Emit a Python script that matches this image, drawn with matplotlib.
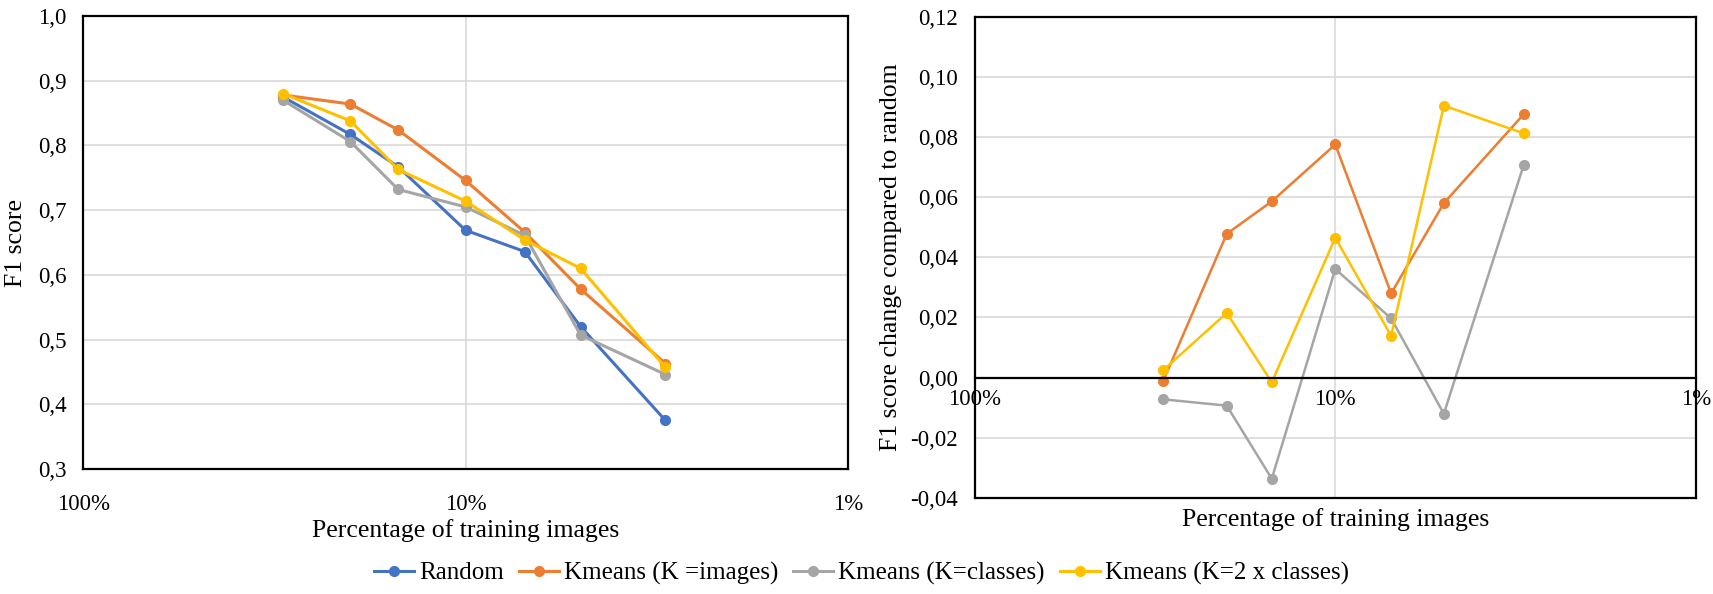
import matplotlib
matplotlib.use("Agg")
import matplotlib.pyplot as plt
from matplotlib.ticker import FixedLocator, FuncFormatter

plt.rcParams["font.family"] = ["Liberation Serif", "DejaVu Serif"]

# percentage of training images (x)
pct = [30, 20, 15, 10, 7, 5, 3]

# left panel: F1 score
f1_random = [0.875, 0.817, 0.767, 0.669, 0.636, 0.520, 0.375]
f1_km_images = [0.878, 0.864, 0.824, 0.746, 0.666, 0.578, 0.463]
f1_km_classes = [0.870, 0.806, 0.732, 0.705, 0.661, 0.507, 0.446]
f1_km_2classes = [0.880, 0.838, 0.763, 0.714, 0.654, 0.610, 0.457]

# right panel: change of F1 compared to random
d_km_images = [-0.0011, 0.0478, 0.0586, 0.0775, 0.0280, 0.0580, 0.0876]
d_km_classes = [-0.0072, -0.0093, -0.0336, 0.0361, 0.0197, -0.0120, 0.0708]
d_km_2classes = [0.0025, 0.0215, -0.0015, 0.0465, 0.0139, 0.0904, 0.0812]

labels = ["Random", "Kmeans (K =images)", "Kmeans (K=classes)", "Kmeans (K=2 x classes)"]
colors = ["#4472C4", "#ED7D31", "#A5A5A5", "#FFC000"]
x_ticks = [100, 10, 1]
x_ticklabels = ["100%", "10%", "1%"]

fig = plt.figure(figsize=(17.13, 5.94), dpi=100)
ax1 = fig.add_axes([0.0485, 0.2104, 0.4465, 0.7626])
ax2 = fig.add_axes([0.569, 0.1616, 0.421, 0.8104])


def style_axes(ax):
    ax.set_xscale("log")
    ax.set_xlim(100, 1)
    ax.xaxis.set_major_locator(FixedLocator(x_ticks))
    ax.xaxis.set_minor_locator(FixedLocator([]))
    ax.set_xticklabels(x_ticklabels)
    ax.grid(True, color="#d9d9d9", linewidth=1.2)
    ax.set_axisbelow(True)
    ax.tick_params(length=0, labelsize=16.5)
    ax.tick_params(axis="y", pad=12)
    for sp in ax.spines.values():
        sp.set_color("black")
        sp.set_linewidth(1.6)


# left panel
style_axes(ax1)
for ys, lab, c in zip([f1_random, f1_km_images, f1_km_classes, f1_km_2classes], labels, colors):
    ax1.plot(pct, ys, color=c, lw=2.2, marker="o", ms=7, label=lab)
ax1.set_ylim(0.3, 1.0)
ax1.set_yticks([0.3, 0.4, 0.5, 0.6, 0.7, 0.8, 0.9, 1.0])
ax1.yaxis.set_major_formatter(FuncFormatter(lambda v, p: f"{v:.1f}".replace(".", ",")))
ax1.tick_params(axis="x", pad=18)
ax1.set_ylabel("F1 score", fontsize=18.5, labelpad=8)
ax1.set_xlabel("Percentage of training images", fontsize=18.5)
ax1.xaxis.set_label_coords(0.5, -0.11)

# right panel
style_axes(ax2)
for ys, c in zip([d_km_images, d_km_classes, d_km_2classes], colors[1:]):
    ax2.plot(pct, ys, color=c, lw=1.8, marker="o", ms=7)
ax2.set_ylim(-0.04, 0.12)
ax2.set_yticks([-0.04, -0.02, 0.0, 0.02, 0.04, 0.06, 0.08, 0.10, 0.12])
ax2.yaxis.set_major_formatter(FuncFormatter(lambda v, p: f"{v:.2f}".replace(".", ",").replace("-0,00", "0,00")))
ax2.spines["bottom"].set_position(("data", 0))
ax2.tick_params(axis="x", pad=8)
# bottom frame line (the x axis itself sits at zero)
ax2.plot([0, 1], [0, 0], transform=ax2.transAxes, color="black", lw=1.6, clip_on=False)
ax2.set_ylabel("F1 score change compared to random", fontsize=18.5, labelpad=6)
ax2.set_xlabel("Percentage of training images", fontsize=18.5)
ax2.xaxis.set_label_coords(0.5, -0.02)

handles, labs = ax1.get_legend_handles_labels()
fig.legend(handles, labs, loc="center", bbox_to_anchor=(0.503, 0.035), ncol=4,
           frameon=False, fontsize=18, handlelength=1.6, handletextpad=0.2,
           columnspacing=0.6)

fig.savefig("out.png", dpi=100)
